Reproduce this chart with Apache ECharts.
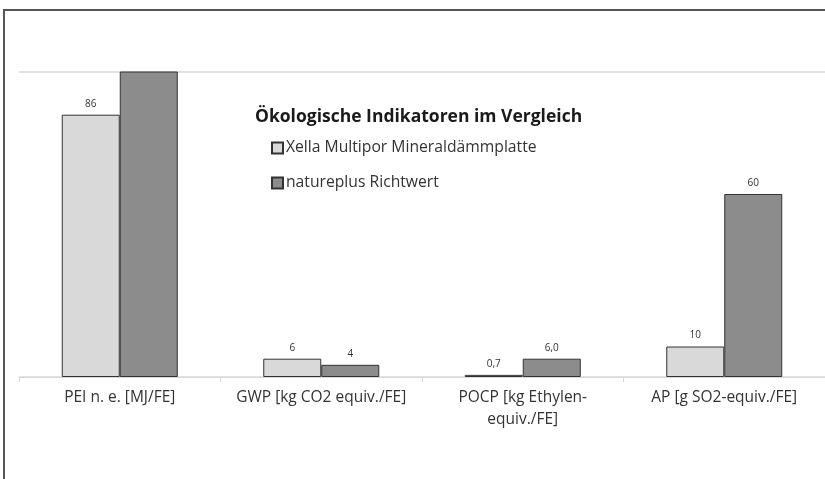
<!DOCTYPE html>
<html>
<head>
<meta charset="utf-8">
<title>Ökologische Indikatoren im Vergleich</title>
<script src="https://cdn.jsdelivr.net/npm/echarts@6/dist/echarts.min.js"></script>
<style>
    html, body { margin: 0; padding: 0; background: #fff; }
    #wrap { position: relative; width: 825px; height: 479px; overflow: hidden; }
    /* Rahmen oben und links wie im Original */
    #frame {
        position: absolute; left: 3px; top: 9px; width: 900px; height: 600px;
        border-top: 2px solid #555; border-left: 2px solid #555;
    }
    #chart { position: absolute; left: 0; top: 0; width: 825px; height: 479px; }
</style>
</head>
<body>
<div id="wrap">
    <div id="frame"></div>
    <div id="chart"></div>
</div>
<script>
// Kategorien (x-Achse)
const categories = ['PEI n. e. [MJ/FE]', 'GWP [kg CO2 equiv./FE]', 'POCP [kg Ethylen-\nequiv./FE]', 'AP [g SO2-equiv./FE]'];

// Serien
const xellaName = 'Xella Multipor Mineraldämmplatte';
const xellaValues = [86, 6, 0.7, 10];
const xellaLabels = ['86', '6', '0,7', '10'];

const natureName = 'natureplus Richtwert';
const natureValues = [110, 4, 6.0, 60];   // PEI-Wert oben abgeschnitten
const natureLabels = ['', '4', '6,0', '60'];

// Achse
const yMin = 0;
const yMax = 100;

document.addEventListener('DOMContentLoaded', () => {
    const chart = echarts.init(document.getElementById('chart'));

    // Datenpunkte mit eigenem Label-Text (Komma als Dezimaltrenner)
    const buildData = (values, labels) => values.map((v, i) => ({
        value: v,
        label: { show: v <= yMax && labels[i] !== '', formatter: labels[i] }
    }));

    const barLabel = {
        show: true,
        position: 'top',
        distance: 6,
        color: '#333',
        fontSize: 10,
        fontFamily: 'Open Sans'
    };

    const option = {
        animation: false,
        title: {
            text: 'Ökologische Indikatoren im Vergleich',
            left: 250,
            top: 103,
            textStyle: {
                fontFamily: 'Open Sans',
                fontWeight: 'bold',
                fontSize: 17.5,
                color: '#1a1a1a'
            }
        },
        legend: {
            orient: 'vertical',
            left: 266,
            top: 135,
            itemWidth: 11,
            itemHeight: 11,
            itemGap: 19,
            icon: 'rect',
            textStyle: {
                fontFamily: 'Open Sans',
                fontSize: 15.7,
                color: '#333',
                padding: [0, 0, 0, -2]
            },
            data: [xellaName, natureName]
        },
        grid: {
            left: 19,
            top: 72,
            width: 807,
            height: 305
        },
        xAxis: {
            type: 'category',
            data: categories,
            axisLine: { lineStyle: { color: '#d9d9d9', width: 1 } },
            axisTick: { show: true, length: 5, lineStyle: { color: '#d9d9d9' } },
            axisLabel: {
                color: '#333',
                fontFamily: 'Open Sans',
                fontSize: 15.5,
                lineHeight: 22,
                margin: 10,
                interval: 0
            }
        },
        yAxis: {
            type: 'value',
            min: yMin,
            max: yMax,
            interval: 100,
            axisLabel: { show: false },
            axisLine: { show: false },
            axisTick: { show: false },
            splitLine: { lineStyle: { color: '#e3e3e3', width: 2 } }
        },
        series: [
            {
                name: xellaName,
                type: 'bar',
                data: buildData(xellaValues, xellaLabels),
                barWidth: 58,
                barGap: '0%',
                itemStyle: { color: '#d9d9d9', borderColor: '#333', borderWidth: 1 },
                label: barLabel
            },
            {
                name: natureName,
                type: 'bar',
                data: buildData(natureValues, natureLabels),
                barWidth: 58,
                barGap: '0%',
                itemStyle: { color: '#8c8c8c', borderColor: '#333', borderWidth: 1 },
                label: barLabel
            }
        ]
    };

    chart.setOption(option);
});
</script>
</body>
</html>
